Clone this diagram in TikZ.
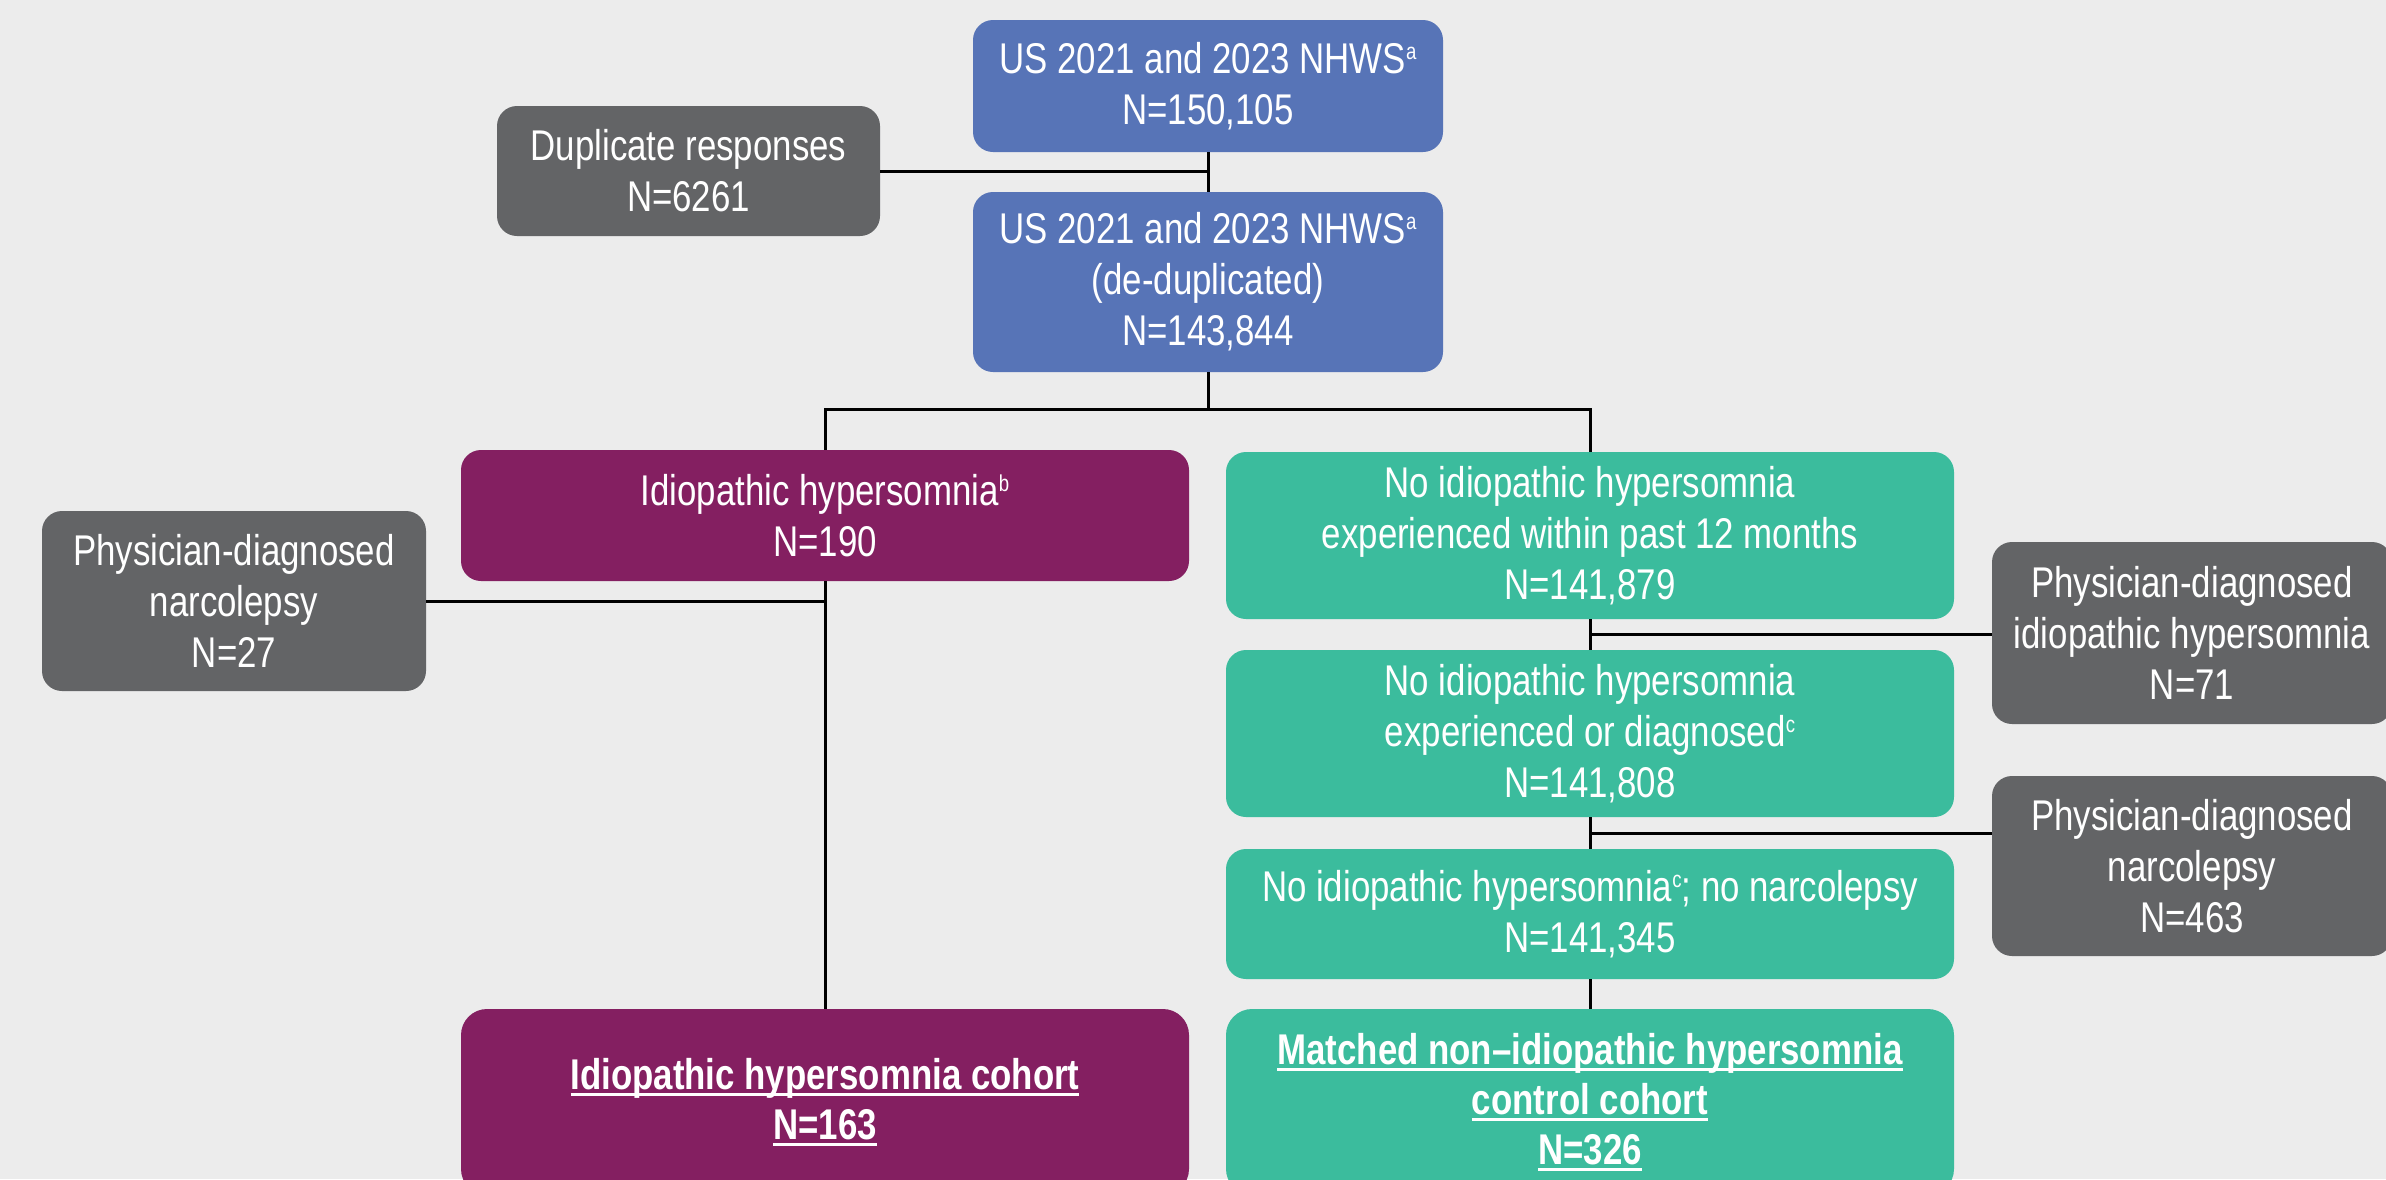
\documentclass[tikz,border=0pt]{standalone}
\usepackage{fontspec}
\setmainfont{Liberation Sans}[FakeStretch=0.81]
\usetikzlibrary{calc}
\definecolor{bgc}{RGB}{236,236,236}
\definecolor{nblue}{RGB}{87,116,183}
\definecolor{npurple}{RGB}{132,31,97}
\definecolor{ngreen}{RGB}{59,188,157}
\definecolor{ngray}{RGB}{99,100,102}
\newcommand\sups[1]{\raisebox{14pt}{\fontsize{23}{23}\selectfont #1}}
\newcommand\myul[1]{\setbox0\hbox{#1}\rlap{\rule[-6pt]{\wd0}{2.5pt}}\box0}
\begin{document}
\begin{tikzpicture}[x=1pt,y=-1pt,
  box/.style={rounded corners=20pt, inner sep=0pt, align=center, text=white,
    font=\fontsize{43}{51}\selectfont},
  bluebox/.style={box, fill=nblue},
  purplebox/.style={box, fill=npurple},
  greenbox/.style={box, fill=ngreen},
  graybox/.style={box, fill=ngray},
  boldbox/.style={font=\fontsize{43}{50}\selectfont\bfseries, rounded corners=26pt},
  conn/.style={draw=black, line width=3pt}]
\useasboundingbox (0,0) rectangle (2386,1179);
\clip (0,0) rectangle (2386,1179);
\fill[bgc] (0,0) rectangle (2386,1179);

\node[bluebox, minimum width=470pt, minimum height=132pt] (b1) at (1208,86)
  {US 2021 and 2023 NHWS\sups{a}\\N=150,105};
\node[graybox, minimum width=383pt, minimum height=130pt] (dup) at (688.5,171)
  {Duplicate responses\\N=6261};
\node[bluebox, minimum width=470pt, minimum height=180pt] (b2) at (1208,282)
  {US 2021 and 2023 NHWS\sups{a}\\(de-duplicated)\\N=143,844};
\node[purplebox, minimum width=728pt, minimum height=131pt] (p1) at (825,515.5)
  {Idiopathic hypersomnia\sups{b}\\N=190};
\node[graybox, minimum width=384pt, minimum height=180pt] (narc) at (234,601)
  {Physician-diagnosed\\narcolepsy\\N=27};
\node[greenbox, minimum width=728pt, minimum height=167pt] (g1) at (1590,535.5)
  {No idiopathic hypersomnia\\experienced within past 12 months\\N=141,879};
\node[graybox, minimum width=400pt, minimum height=182pt] (g71) at (2192,633)
  {Physician-diagnosed\\idiopathic hypersomnia\\N=71};
\node[greenbox, minimum width=728pt, minimum height=167pt] (g2) at (1590,733.5)
  {No idiopathic hypersomnia\\experienced or diagnosed\sups{c}\\N=141,808};
\node[graybox, minimum width=400pt, minimum height=180pt] (g463) at (2192,866)
  {Physician-diagnosed\\narcolepsy\\N=463};
\node[greenbox, minimum width=728pt, minimum height=130pt] (g3) at (1590,914)
  {No idiopathic hypersomnia\sups{c}; no narcolepsy\\N=141,345};
\node[purplebox, boldbox, minimum width=728pt, minimum height=186pt] (pb) at (825,1102)
  {\myul{Idiopathic hypersomnia cohort}\\\myul{N=163}};
\node[greenbox, boldbox, minimum width=728pt, minimum height=186pt] (gb) at (1590,1102)
  {\myul{Matched non--idiopathic hypersomnia}\\\myul{control cohort}\\\myul{N=326}};

\draw[conn] (b1.south) -- (b2.north);
\draw[conn] (dup.east) -- (dup.east -| b1.south);
\draw[conn] (b2.south) -- ++(0,37) coordinate (split);
\draw[conn] (p1.north) |- (split) -| (g1.north);
\draw[conn] (p1.south) -- (pb.north);
\draw[conn] (narc.east) -- (narc.east -| p1.south);
\draw[conn] (g1.south) -- (g2.north);
\draw[conn] (g2.south) -- (g3.north);
\draw[conn] (g3.south) -- (gb.north);
\coordinate (m1) at ($(g1.south)!0.5!(g2.north)$);
\coordinate (m2) at ($(g2.south)!0.5!(g3.north)$);
\draw[conn] (m1) -- (m1 -| g71.west);
\draw[conn] (m2) -- (m2 -| g463.west);
\end{tikzpicture}
\end{document}
